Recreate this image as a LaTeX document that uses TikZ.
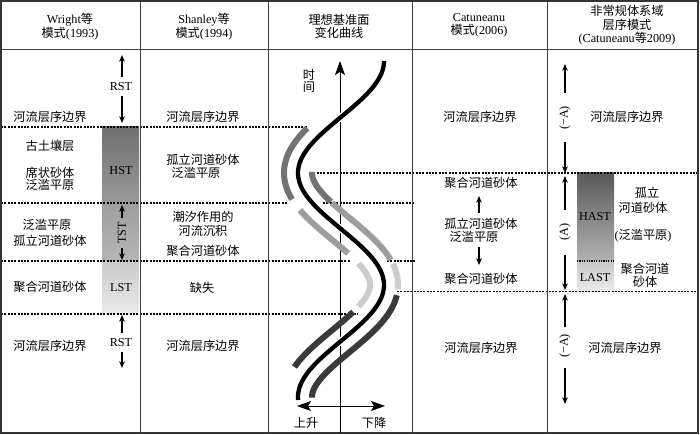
\documentclass[tikz,border=0pt]{standalone}
\usepackage{fontspec}
\setmainfont{Liberation Serif}
\newfontfamily\cjk{Noto Sans CJK SC}
\usetikzlibrary{arrows.meta}
\newcommand\zh[1]{{\cjk #1}}
\definecolor{gA}{HTML}{737373}
\definecolor{gB}{HTML}{9D9D9D}
\definecolor{gC}{HTML}{CCCCCC}
\definecolor{gD}{HTML}{3A3A3A}
\begin{document}
\begin{tikzpicture}[x=1pt,y=-1pt,
  t/.style={inner sep=0pt, font=\fontsize{12.2}{13.5}\selectfont},
  hd/.style={t, align=center},
  frameline/.style={line width=1.1pt, draw=black!80},
  colline/.style={line width=0.9pt, draw=black!75},
  dline/.style={line width=1.2pt, dash pattern=on 2pt off 1.3pt},
  dotline/.style={line width=1.1pt, dash pattern=on 1.2pt off 1.2pt},
  arr/.style={line width=1.3pt, -{Stealth[length=6.5pt,width=5.5pt,inset=1.5pt]}},
  bigarr/.style={line width=0.9pt, -{Stealth[length=14pt,width=10pt,inset=3pt]}},
  dblarr/.style={line width=0.9pt, {Stealth[length=14pt,width=10pt,inset=3pt]}-{Stealth[length=14pt,width=10pt,inset=3pt]}},
  band/.style={line width=6pt},
  declare function={
    cth(\t)=cos(1.607143*(\t-61));
    sth(\t)=sin(1.607143*(\t-61));
    cdx(\t)=-1.2061*sth(\t);
    cnn(\t)=sqrt(1+cdx(\t)*cdx(\t));
    ox(\t,\d)=341+43*cth(\t)+\d/cnn(\t);
    oy(\t,\d)=\t-\d*cdx(\t)/cnn(\t);
  }]
\useasboundingbox (0,0) rectangle (700,435);
\fill[white] (0,0) rectangle (700,435);

% shaded system tract boxes
\shade[top color=black!56, bottom color=black!40] (102,127) rectangle (139,203);
\shade[top color=black!38, bottom color=black!29] (102,203) rectangle (139,261);
\shade[top color=black!21, bottom color=black!8] (102,261) rectangle (139,314);
\shade[top color=black!65, bottom color=black!30] (577,173) rectangle (614,261);
\shade[top color=black!22, bottom color=black!8] (577,261) rectangle (614,291);

% dashed boundaries
\draw[dline] (1,127) -- (307,127);
\draw[dline] (310,173) -- (698,173);
\draw[dline] (1,203) -- (287,203);
\draw[dline] (323,203) -- (415,203);
\draw[dline] (1,261) -- (350,261);
\draw[dline] (387,261) -- (415,261);
\draw[dline] (397,291.5) -- (698,291.5);
\draw[dline] (1,314) -- (358,314);
\draw[dotline] (577,261) -- (614,261);

% frame and columns
\draw[frameline] (1,1) rectangle (698,433);
\draw[colline] (1,49) -- (698,49);
\draw[colline] (140,1) -- (140,433);
\draw[colline] (268,1) -- (268,433);
\draw[colline] (412,1) -- (412,433);
\draw[colline] (547,1) -- (547,433);

% headers
\node[hd] (h1) at (70,26.5) {Wright\zh{等}\\\zh{模式}(1993)};
\node[hd] (h2) at (204,26.5) {Shanley\zh{等}\\\zh{模式}(1994)};
\node[hd] (h3) at (339,26.5) {\zh{理想基准面}\\\zh{变化曲线}};
\node[hd] (h4) at (479,25.5) {Catuneanu\\\zh{模式}(2006)};
\node[hd] (h5) at (627,25.5) {\zh{非常规体系域}\\\zh{层序模式}\\(Catuneanu\zh{等}2009)};

% column 1
\node[t] (c1a) at (50,117) {\zh{河流层序边界}};
\node[t] (c1b) at (50,146) {\zh{古土壤层}};
\node[t] (c1c) at (50,173) {\zh{席状砂体}};
\node[t] (c1d) at (50,185) {\zh{泛滥平原}};
\node[t] (c1e) at (47,225) {\zh{泛滥平原}};
\node[t] (c1f) at (50,241) {\zh{孤立河道砂体}};
\node[t] (c1g) at (50,287) {\zh{聚合河道砂体}};
\node[t] (c1h) at (50,346) {\zh{河流层序边界}};
\node[t] (rst1) at (121,87) {RST};
\node[t] (hst) at (121,171) {HST};
\node[t, rotate=90] (tst) at (122,233) {TST};
\node[t] (lst) at (121,288) {LST};
\node[t] (rst2) at (121,343) {RST};
\coordinate (a1s) at (122,77);  \coordinate (a1e) at (122,55);
\coordinate (a2s) at (122,96);  \coordinate (a2e) at (122,123);
\coordinate (a3s) at (122,218); \coordinate (a3e) at (122,205);
\coordinate (a4s) at (122,248); \coordinate (a4e) at (122,260);
\coordinate (a5s) at (122,333); \coordinate (a5e) at (122,315);
\coordinate (a6s) at (122,352); \coordinate (a6e) at (122,368);
\draw[arr] (a1s) -- (a1e);
\draw[arr] (a2s) -- (a2e);
\draw[arr] (a3s) -- (a3e);
\draw[arr] (a4s) -- (a4e);
\draw[arr] (a5s) -- (a5e);
\draw[arr] (a6s) -- (a6e);

% column 2
\node[t] (c2a) at (203,117) {\zh{河流层序边界}};
\node[t] (c2b) at (203,160) {\zh{孤立河道砂体}};
\node[t] (c2c) at (196,173) {\zh{泛滥平原}};
\node[t] (c2d) at (203,217) {\zh{潮汐作用的}};
\node[t] (c2e) at (203,231) {\zh{河流沉积}};
\node[t] (c2f) at (203,251) {\zh{聚合河道砂体}};
\node[t] (c2g) at (202,288) {\zh{缺失}};
\node[t] (c2h) at (203,346) {\zh{河流层序边界}};

% column 3: curve
\coordinate (axb) at (340,433);
\coordinate (axt) at (340,61);
\draw[bigarr] (axb) -- (axt);
\coordinate (hl) at (297,406);
\coordinate (hr) at (385,406);
\draw[dblarr] (hl) -- (hr);
\node[t] (sj1) at (309,75) {\zh{时}};
\node[t] (sj2) at (309,87) {\zh{间}};
\node[t] (ss) at (306,423) {\zh{上升}};
\node[t] (xj) at (374,423) {\zh{下降}};

\draw[band, draw=gA] plot[domain=138:192, samples=30, variable=\t] ({ox(\t,-14)},{oy(\t,-14)});
\draw[band, draw=gB] plot[domain=201:243, samples=30, variable=\t] ({ox(\t,-14)},{oy(\t,-14)});
\draw[band, draw=gC] plot[domain=254:316, samples=30, variable=\t] ({ox(\t,-14)},{oy(\t,-14)});
\draw[band, draw=gD] plot[domain=322:375, samples=30, variable=\t] ({ox(\t,-14)},{oy(\t,-14)});
\draw[band, draw=gA] plot[domain=171:212, samples=30, variable=\t] ({ox(\t,14)},{oy(\t,14)});
\draw[band, draw=gB] plot[domain=213:267, samples=30, variable=\t] ({ox(\t,14)},{oy(\t,14)});
\draw[band, draw=gC] plot[domain=270:288, samples=20, variable=\t] ({ox(\t,14)},{oy(\t,14)});
\draw[band, draw=gD] plot[domain=292:398, samples=50, variable=\t] ({ox(\t,14)},{oy(\t,14)});
\draw[line width=7pt, white] plot[domain=63:398, samples=140, variable=\t] ({ox(\t,0)},{\t});
\draw[line width=4.3pt, black] plot[domain=61:400, samples=140, variable=\t] ({ox(\t,0)},{\t});

% column 4
\node[t] (c4a) at (480,117) {\zh{河流层序边界}};
\node[t] (c4b) at (481,183) {\zh{聚合河道砂体}};
\node[t] (c4c) at (481,224) {\zh{孤立河道砂体}};
\node[t] (c4d) at (474,237) {\zh{泛滥平原}};
\node[t] (c4e) at (481,279) {\zh{聚合河道砂体}};
\node[t] (c4f) at (481,348) {\zh{河流层序边界}};
\coordinate (b1s) at (479,213); \coordinate (b1e) at (479,196);
\coordinate (b2s) at (479,247); \coordinate (b2e) at (479,265);
\draw[arr] (b1s) -- (b1e);
\draw[arr] (b2s) -- (b2e);

% column 5
\node[t] (c5a) at (627,117) {\zh{河流层序边界}};
\node[t] (c5b) at (647,193) {\zh{孤立}};
\node[t] (c5c) at (643,208) {\zh{河道砂体}};
\node[t] (c5d) at (643,236) {(\zh{泛滥平原})};
\node[t] (c5e) at (645,269) {\zh{聚合河道}};
\node[t] (c5f) at (645,282) {\zh{砂体}};
\node[t] (c5g) at (625,348) {\zh{河流层序边界}};
\node[t] (hast) at (595,217) {HAST};
\node[t] (last) at (595,278) {LAST};
\node[t, rotate=90] (na1) at (565,118) {(−A)};
\node[t, rotate=90] (na2) at (565,232) {(A)};
\node[t, rotate=90] (na3) at (565,346) {(−A)};
\coordinate (d1s) at (565,93);  \coordinate (d1e) at (565,64);
\coordinate (d2s) at (565,142); \coordinate (d2e) at (565,173);
\coordinate (d3s) at (565,210); \coordinate (d3e) at (565,176);
\coordinate (d4s) at (565,255); \coordinate (d4e) at (565,290);
\coordinate (d5s) at (565,327); \coordinate (d5e) at (565,294);
\coordinate (d6s) at (565,368); \coordinate (d6e) at (565,404);
\draw[arr] (d1s) -- (d1e);
\draw[arr] (d2s) -- (d2e);
\draw[arr] (d3s) -- (d3e);
\draw[arr] (d4s) -- (d4e);
\draw[arr] (d5s) -- (d5e);
\draw[arr] (d6s) -- (d6e);
\end{tikzpicture}
\end{document}
